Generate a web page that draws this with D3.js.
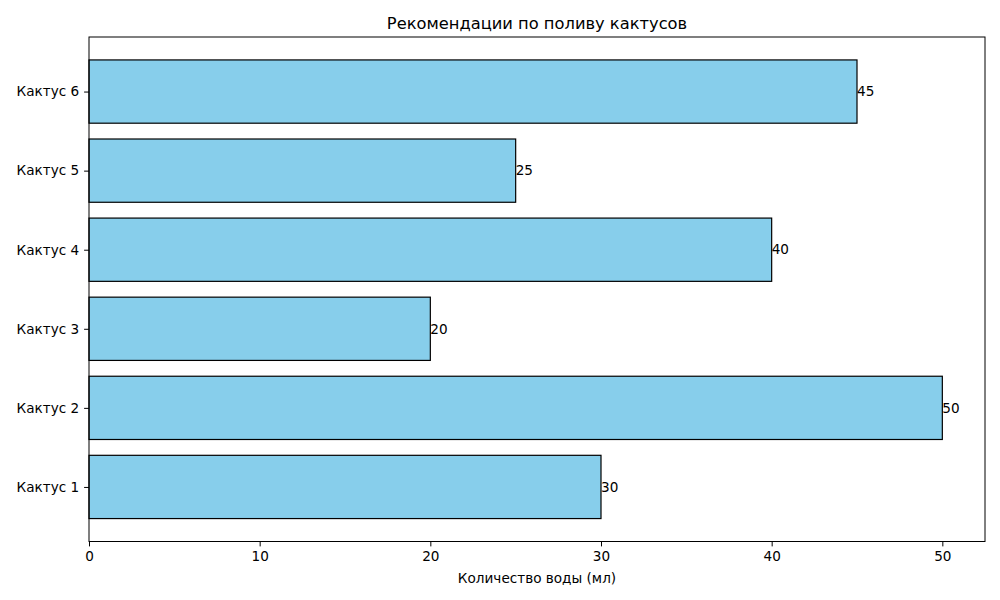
<!DOCTYPE html>
<html><head><meta charset="utf-8">
<script src="https://cdn.jsdelivr.net/npm/d3@7"></script>
<style>body{margin:0;background:#fff}text{font-family:"DejaVu Sans",sans-serif}</style>
</head><body><svg id="c" width="1000" height="600"></svg>
<script>
const categories = ["Кактус 1","Кактус 2","Кактус 3","Кактус 4","Кактус 5","Кактус 6"];
const water = [30, 50, 20, 40, 25, 45];
const xTicks = [0, 10, 20, 30, 40, 50];
const title = "Рекомендации по поливу кактусов";
const xLabel = "Количество воды (мл)";

const svg = d3.select("#c");
const L = 89, R = 985, T = 37, B = 541.5;
const xMax = d3.max(water) * 1.05;
const x = d3.scaleLinear().domain([0, xMax]).range([L, R]);
const n = categories.length;
const y = d3.scaleLinear().domain([-0.4 - 0.29, n - 1 + 0.4 + 0.29]).range([B, T]);
const bh = 0.8;
const fs = 13.6;

svg.selectAll("rect.bar").data(water).enter().append("rect")
  .attr("class","bar")
  .attr("x", x(0))
  .attr("y", (d,i) => y(i + bh/2))
  .attr("width", d => x(d) - x(0))
  .attr("height", (d,i) => y(i - bh/2) - y(i + bh/2))
  .attr("fill", "#87ceeb").attr("stroke", "#000").attr("stroke-width", 1.2);

svg.selectAll("text.val").data(water).enter().append("text")
  .attr("class","val")
  .attr("x", d => x(d))
  .attr("y", (d,i) => y(i))
  .attr("dy", "0.35em")
  .attr("font-size", fs)
  .text(d => d);

svg.append("rect").attr("x", L).attr("y", T).attr("width", R-L).attr("height", B-T)
  .attr("fill","none").attr("stroke","#000").attr("stroke-width",1);

const xAxis = svg.append("g").attr("transform", `translate(0,${B})`)
  .call(d3.axisBottom(x).tickValues(xTicks).tickSize(4.9).tickPadding(4.9));
const yAxis = svg.append("g").attr("transform", `translate(${L},0)`)
  .call(d3.axisLeft(y).tickValues(d3.range(n)).tickFormat(i => categories[i]).tickSize(4.9).tickPadding(4.9));
[xAxis, yAxis].forEach(g => {
  g.select(".domain").remove();
  g.selectAll("text").attr("font-size", fs).attr("font-family", "DejaVu Sans").attr("fill","#000");
  g.selectAll("line").attr("stroke","#000");
});

svg.append("text").attr("x", (L+R)/2).attr("y", 29).attr("text-anchor","middle")
  .attr("font-size", 16.3).text(title);
svg.append("text").attr("x", (L+R)/2).attr("y", 583).attr("text-anchor","middle")
  .attr("font-size", fs).text(xLabel);
</script></body></html>
